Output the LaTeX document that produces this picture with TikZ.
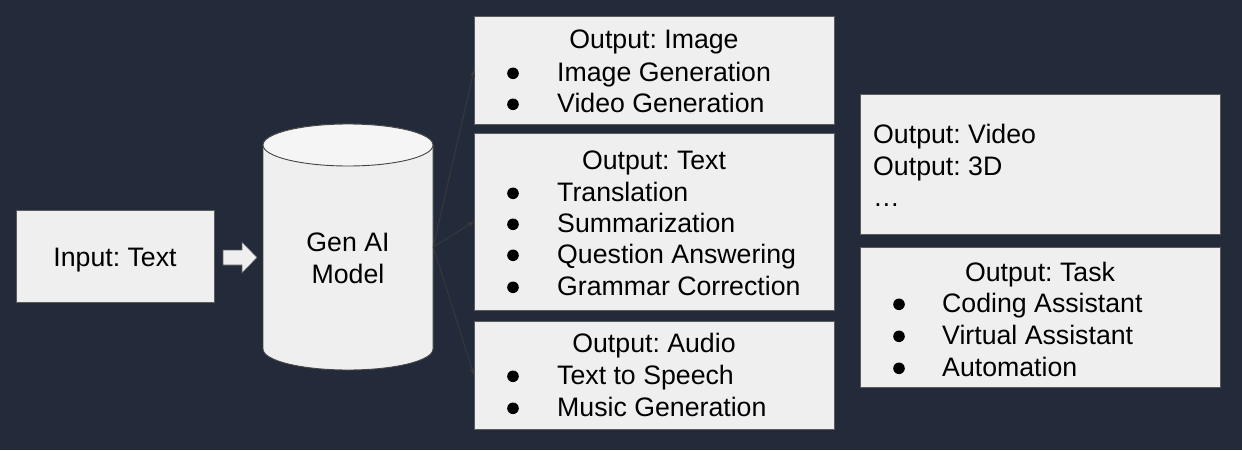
\documentclass[tikz,border=0pt]{standalone}
\usepackage{fontspec}
\setmainfont{Liberation Sans}
\usetikzlibrary{arrows.meta}
\definecolor{bg}{HTML}{232B3B}
\definecolor{boxfill}{HTML}{EFEFEF}
\definecolor{topfill}{HTML}{F5F5F5}
\definecolor{boxline}{HTML}{5B5B5B}
\definecolor{cylline}{HTML}{444444}
\definecolor{connc}{HTML}{3A3A3A}
\frenchspacing
\begin{document}
\begin{tikzpicture}[x=1pt,y=-1pt,
 box/.style={draw=boxline,fill=boxfill,line width=0.9pt,inner sep=0pt,outer sep=0pt},
 txt/.style={font=\fontsize{26.7}{31.5}\selectfont,inner sep=0pt,text=black},
 conn/.style={draw=connc,line width=0.8pt,-{Stealth[length=7pt,width=5pt]}}]
\fill[bg] (0,0) rectangle (1242,450);
\useasboundingbox (0,0) rectangle (1242,450);
% boxes
\node[box,minimum width=198pt,minimum height=92pt] (in) at (115,256) {};
\node[box,minimum width=360pt,minimum height=108pt] (img) at (654,70) {};
\node[box,minimum width=360pt,minimum height=177pt] (txtbox) at (654,221.5) {};
\node[box,minimum width=360pt,minimum height=108pt] (aud) at (654,375) {};
\node[box,minimum width=360pt,minimum height=140pt] (vid) at (1040,164) {};
\node[box,minimum width=360pt,minimum height=140pt] (task) at (1040,317) {};
% cylinder
\node[inner sep=0pt,minimum width=170pt,minimum height=246pt] (model) at (348,247) {};
\filldraw[fill=boxfill,draw=cylline,line width=0.9pt]
  (263,145) -- (263,349) arc[start angle=180,end angle=360,x radius=85pt,y radius=21pt]
  -- (433,145) arc[start angle=0,end angle=180,x radius=85pt,y radius=21pt] -- cycle;
\filldraw[fill=topfill,draw=cylline,line width=0.9pt] (348,145) ellipse[x radius=85pt,y radius=21pt];
% block arrow
\filldraw[fill=boxfill,draw=boxline,line width=0.6pt]
  (223,250) -- (242,250) -- (242,242) -- (257,257.5) -- (242,273) -- (242,265) -- (223,265) -- cycle;
% connectors
\draw[conn] (model.east) -- (img.west);
\draw[conn] (model.east) -- (txtbox.west);
\draw[conn] (model.east) -- (aud.west);
% texts
\node[txt,anchor=base] (tin) at (115,266) {Input: Text};
\node[txt,anchor=base] (tm1) at (348,251) {Gen AI};
\node[txt,anchor=base] (tm2) at (348,283) {Model};
% image box
\node[txt,anchor=base] (ti0) at (654,48) {Output: Image};
\node[txt,anchor=base west] (ti1) at (557,81) {Image Generation};
\node[txt,anchor=base west] (ti2) at (557,112) {Video Generation};
\foreach \yy in {81,112} \fill (513,\yy-7.7) circle[radius=5.8pt];
% text box
\node[txt,anchor=base] (tt0) at (654,169) {Output: Text};
\node[txt,anchor=base west] (tt1) at (557,201) {Translation};
\node[txt,anchor=base west] (tt2) at (557,232) {Summarization};
\node[txt,anchor=base west] (tt3) at (557,263) {Question Answering};
\node[txt,anchor=base west] (tt4) at (557,295) {Grammar Correction};
\foreach \yy in {201,232,263,295} \fill (513,\yy-7.7) circle[radius=5.8pt];
% audio box
\node[txt,anchor=base] (ta0) at (654,352) {Output: Audio};
\node[txt,anchor=base west] (ta1) at (557,384) {Text to Speech};
\node[txt,anchor=base west] (ta2) at (557,416) {Music Generation};
\foreach \yy in {384,416} \fill (513,\yy-7.7) circle[radius=5.8pt];
% video box
\node[txt,anchor=base west] (tv1) at (873,143) {Output: Video};
\node[txt,anchor=base west] (tv2) at (873,175) {Output: 3D};
\node[txt,anchor=base west] (tv3) at (873,206) {…};
% task box
\node[txt,anchor=base] (tk0) at (1040,281) {Output: Task};
\node[txt,anchor=base west] (tk1) at (942,312) {Coding Assistant};
\node[txt,anchor=base west] (tk2) at (942,344) {Virtual Assistant};
\node[txt,anchor=base west] (tk3) at (942,376) {Automation};
\foreach \yy in {312,344,376} \fill (899,\yy-7.7) circle[radius=5.8pt];
\end{tikzpicture}
\end{document}
